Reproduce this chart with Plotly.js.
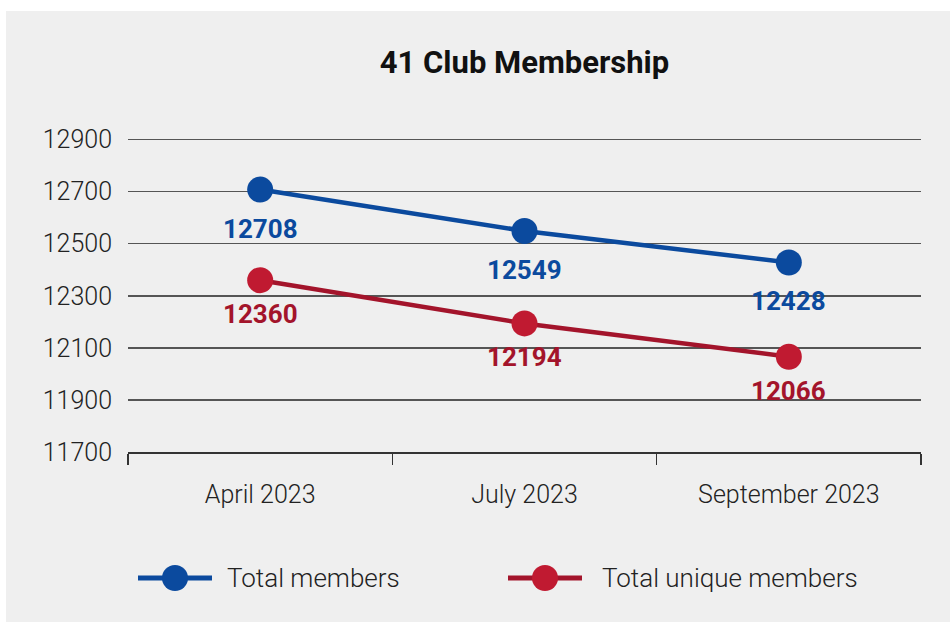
<!DOCTYPE html>
<html>
<head>
<meta charset="utf-8">
<script src="https://cdn.plot.ly/plotly-3.0.1.min.js"></script>
<style>
html,body{margin:0;padding:0;background:#ffffff;width:950px;height:622px;overflow:hidden;}
#chart{position:absolute;left:6px;top:11px;width:944px;height:611px;}
</style>
</head>
<body>
<div id="chart"></div>
<script>
const categories = ["April 2023", "July 2023", "September 2023"];
const totalMembers = [12708, 12549, 12428];
const uniqueMembers = [12360, 12194, 12066];
const seriesNames = ["Total members", "Total unique members"];
const yTicks = [11700, 11900, 12100, 12300, 12500, 12700, 12900];

const BLUE = "#0b4a9e";
const RED_LINE = "#a3142b";
const RED_MARK = "#c01a31";
const FONT = "Roboto, 'Open Sans', sans-serif";

const traces = [
  {x: categories, y: totalMembers, name: seriesNames[0], type: "scatter", mode: "lines+markers",
   line: {color: BLUE, width: 4.5}, marker: {color: BLUE, size: 26}, hoverinfo: "skip", showlegend: false},
  {x: categories, y: uniqueMembers, name: seriesNames[1], type: "scatter", mode: "lines+markers",
   line: {color: RED_LINE, width: 4.5}, marker: {color: RED_MARK, size: 26}, hoverinfo: "skip", showlegend: false}
];

const annotations = [];
categories.forEach((c, i) => {
  annotations.push({x: c, y: totalMembers[i], xref: "x", yref: "y", text: String(totalMembers[i]),
    showarrow: false, yshift: -39, font: {family: FONT, size: 26, weight: 700, color: BLUE}});
  annotations.push({x: c, y: uniqueMembers[i], xref: "x", yref: "y", text: String(uniqueMembers[i]),
    showarrow: false, yshift: -34, font: {family: FONT, size: 26, weight: 700, color: RED_LINE}});
});

// custom legend (paper coords: plot x 128..921 px, y 137..452 px in page)
function px2x(px){ return (px - 128) / 793; }
function py2y(py){ return (452 - py) / 315; }
const legendItems = [
  {name: seriesNames[0], lineColor: BLUE, markColor: BLUE, cx: 175, textX: 225},
  {name: seriesNames[1], lineColor: RED_LINE, markColor: RED_MARK, cx: 545, textX: 600}
];
const shapes = [];
legendItems.forEach(it => {
  const ly = py2y(578);
  shapes.push({type: "line", xref: "paper", yref: "paper", x0: px2x(it.cx - 37), x1: px2x(it.cx + 37), y0: ly, y1: ly,
    line: {color: it.lineColor, width: 5}, layer: "above"});
  shapes.push({type: "circle", xref: "paper", yref: "paper", xsizemode: "pixel", ysizemode: "pixel",
    xanchor: px2x(it.cx), yanchor: ly, x0: -13, x1: 13, y0: -13, y1: 13,
    fillcolor: it.markColor, line: {width: 0}, layer: "above"});
  annotations.push({xref: "paper", yref: "paper", x: px2x(it.textX), y: ly, xanchor: "left", yanchor: "middle",
    text: it.name, showarrow: false, font: {family: FONT, size: 26, weight: 300, color: "#222222"}});
});

const layout = {
  width: 944, height: 611,
  paper_bgcolor: "#efefef", plot_bgcolor: "#efefef",
  margin: {l: 122, r: 29, t: 126, b: 170},
  title: {text: "<b>41 Club Membership</b>", x: 0.5, xref: "paper", xanchor: "center",
    y: 1 - 51 / 611, yref: "container", yanchor: "middle",
    font: {family: FONT, size: 31, color: "#111111"}},
  font: {family: FONT, color: "#222222"},
  showlegend: false,
  xaxis: {type: "category", tickson: "boundaries", ticks: "outside", ticklen: 11, tickwidth: 1.5, tickcolor: "#333333",
    showline: true, linecolor: "#333333", linewidth: 2, showgrid: false, zeroline: false,
    ticklabelstandoff: 19, range: [-0.5, 2.5],
    tickfont: {family: FONT, size: 25, weight: 300, color: "#222222"}},
  yaxis: {range: [11700, 12910], tickvals: yTicks, ticktext: yTicks.map(String), showgrid: true, gridcolor: "#555555",
    gridwidth: 1.5, zeroline: false, showline: false, ticks: "", ticklabelstandoff: 15,
    tickfont: {family: FONT, size: 25, weight: 300, color: "#222222"}},
  annotations: annotations,
  shapes: shapes
};

Plotly.newPlot("chart", traces, layout, {displayModeBar: false, staticPlot: true});
</script>
</body>
</html>
